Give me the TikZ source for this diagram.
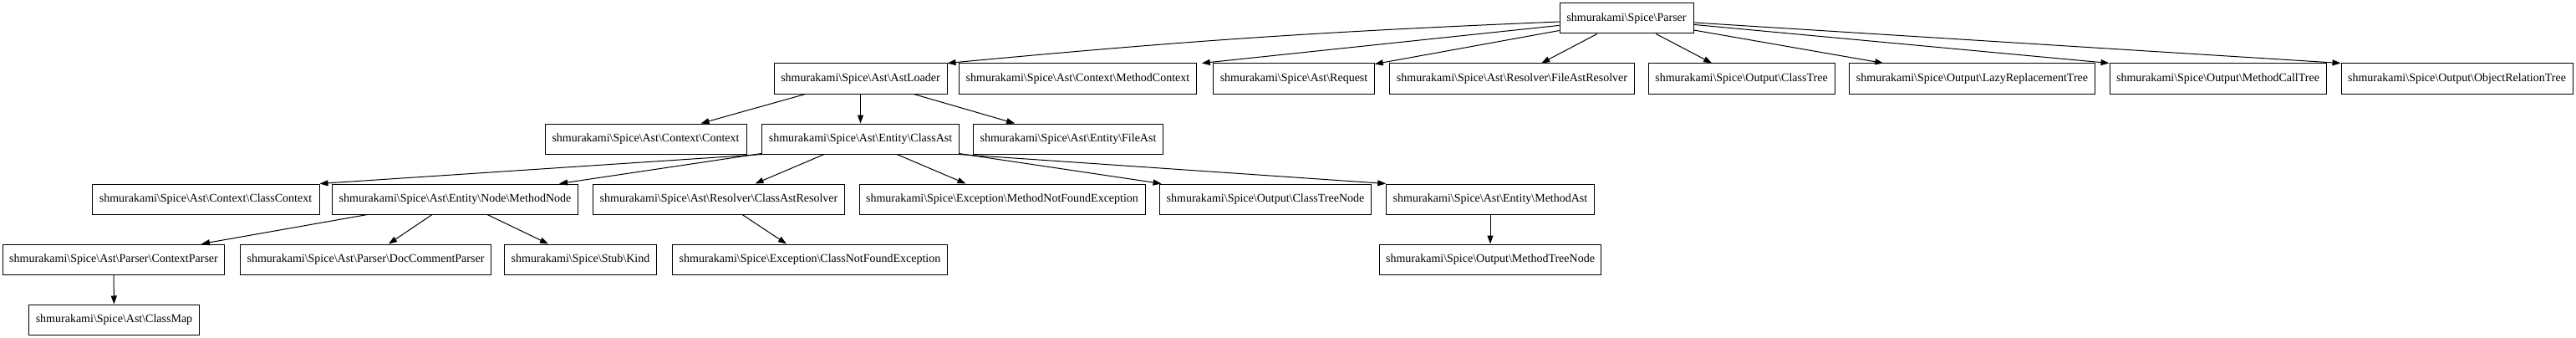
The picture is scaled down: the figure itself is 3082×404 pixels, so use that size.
\documentclass[tikz,border=0pt]{standalone}
\usepackage{fontspec}
\setmainfont{Liberation Serif}
\usepackage{tikz}
\usetikzlibrary{arrows.meta, positioning}
\newcommand{\bsl}{\textbackslash}

\tikzset{
  cls/.style={draw, line width=1pt, minimum height=36pt, inner xsep=8pt,
    font=\fontsize{14pt}{16pt}\selectfont},
  dep/.style={line width=1pt, -{Triangle[length=10pt,width=7pt]}}
}

\begin{document}
\begin{tikzpicture}[x=1pt, y=-1pt]
\useasboundingbox (0,0) rectangle (3082,404);

% Parser
\node[cls, minimum width=160pt] (parser) at (1946,22) {shmurakami\bsl Spice\bsl Parser};

% second row
\node[cls, minimum width=207pt] (astloader) at (1029.5,94) {shmurakami\bsl Spice\bsl Ast\bsl AstLoader};
\node[cls, minimum width=277pt] (methodcontext) at (1289.5,94) {shmurakami\bsl Spice\bsl Ast\bsl Context\bsl MethodContext};
\node[cls, minimum width=192pt] (request) at (1548,94) {shmurakami\bsl Spice\bsl Ast\bsl Request};
\node[cls, minimum width=292pt] (fileastresolver) at (1809,94) {shmurakami\bsl Spice\bsl Ast\bsl Resolver\bsl FileAstResolver};
\node[cls, minimum width=223pt] (classtree) at (2083.5,94) {shmurakami\bsl Spice\bsl Output\bsl ClassTree};
\node[cls, minimum width=293pt] (lazytree) at (2359.5,94) {shmurakami\bsl Spice\bsl Output\bsl LazyReplacementTree};
\node[cls, minimum width=259pt] (methodcalltree) at (2653.5,94) {shmurakami\bsl Spice\bsl Output\bsl MethodCallTree};
\node[cls, minimum width=277pt] (objtree) at (2939.5,94) {shmurakami\bsl Spice\bsl Output\bsl ObjectRelationTree};

% third row
\node[cls, minimum width=241pt] (context) at (772.5,166) {shmurakami\bsl Spice\bsl Ast\bsl Context\bsl Context};
\node[cls, minimum width=235pt] (classast) at (1029.5,166) {shmurakami\bsl Spice\bsl Ast\bsl Entity\bsl ClassAst};
\node[cls, minimum width=226pt] (fileast) at (1278,166) {shmurakami\bsl Spice\bsl Ast\bsl Entity\bsl FileAst};

% fourth row
\node[cls, minimum width=272pt] (classcontext) at (246,238) {shmurakami\bsl Spice\bsl Ast\bsl Context\bsl ClassContext};
\node[cls, minimum width=293pt] (methodnode) at (544.5,238) {shmurakami\bsl Spice\bsl Ast\bsl Entity\bsl Node\bsl MethodNode};
\node[cls, minimum width=300pt] (classastresolver) at (860,238) {shmurakami\bsl Spice\bsl Ast\bsl Resolver\bsl ClassAstResolver};
\node[cls, minimum width=342pt] (methodnotfound) at (1199,238) {shmurakami\bsl Spice\bsl Exception\bsl MethodNotFoundException};
\node[cls, minimum width=252pt] (classtreenode) at (1514,238) {shmurakami\bsl Spice\bsl Output\bsl ClassTreeNode};
\node[cls, minimum width=248pt] (methodast) at (1783,238) {shmurakami\bsl Spice\bsl Ast\bsl Entity\bsl MethodAst};

% fifth row
\node[cls, minimum width=264pt] (contextparser) at (136,310) {shmurakami\bsl Spice\bsl Ast\bsl Parser\bsl ContextParser};
\node[cls, minimum width=299pt] (doccommentparser) at (437.5,310) {shmurakami\bsl Spice\bsl Ast\bsl Parser\bsl DocCommentParser};
\node[cls, minimum width=179pt] (kind) at (694.5,310) {shmurakami\bsl Spice\bsl Stub\bsl Kind};
\node[cls, minimum width=328pt] (classnotfound) at (969,310) {shmurakami\bsl Spice\bsl Exception\bsl ClassNotFoundException};
\node[cls, minimum width=264pt] (methodtreenode) at (1783,310) {shmurakami\bsl Spice\bsl Output\bsl MethodTreeNode};

% last row
\node[cls, minimum width=203pt] (classmap) at (136.5,382) {shmurakami\bsl Spice\bsl Ast\bsl ClassMap};

% edges
\draw[dep] ([yshift=-4pt]parser.west) to[bend right=1.5] (astloader.north east);
\draw[dep] (parser) -- ([xshift=6pt]methodcontext.north east);
\draw[dep] (parser) -- (request);
\draw[dep] (parser) -- (fileastresolver);
\draw[dep] (parser) -- (classtree);
\draw[dep] (parser) -- (lazytree);
\draw[dep] (parser) -- (methodcalltree.north west);
\draw[dep] (parser) -- (objtree.north west);

\draw[dep] (astloader) -- (context);
\draw[dep] (astloader) -- (classast);
\draw[dep] (astloader) -- (fileast);

\draw[dep] (classast.south west) -- (classcontext.north east);
\draw[dep] (classast) -- (methodnode);
\draw[dep] (classast) -- (classastresolver);
\draw[dep] (classast) -- (methodnotfound);
\draw[dep] (classast) -- (classtreenode);
\draw[dep] (classast.south east) -- (methodast.north west);

\draw[dep] (methodnode) -- (contextparser);
\draw[dep] (methodnode) -- (doccommentparser);
\draw[dep] (methodnode) -- (kind);
\draw[dep] (classastresolver) -- (classnotfound);
\draw[dep] (methodast) -- (methodtreenode);
\draw[dep] (contextparser) -- (classmap);
\end{tikzpicture}
\end{document}
